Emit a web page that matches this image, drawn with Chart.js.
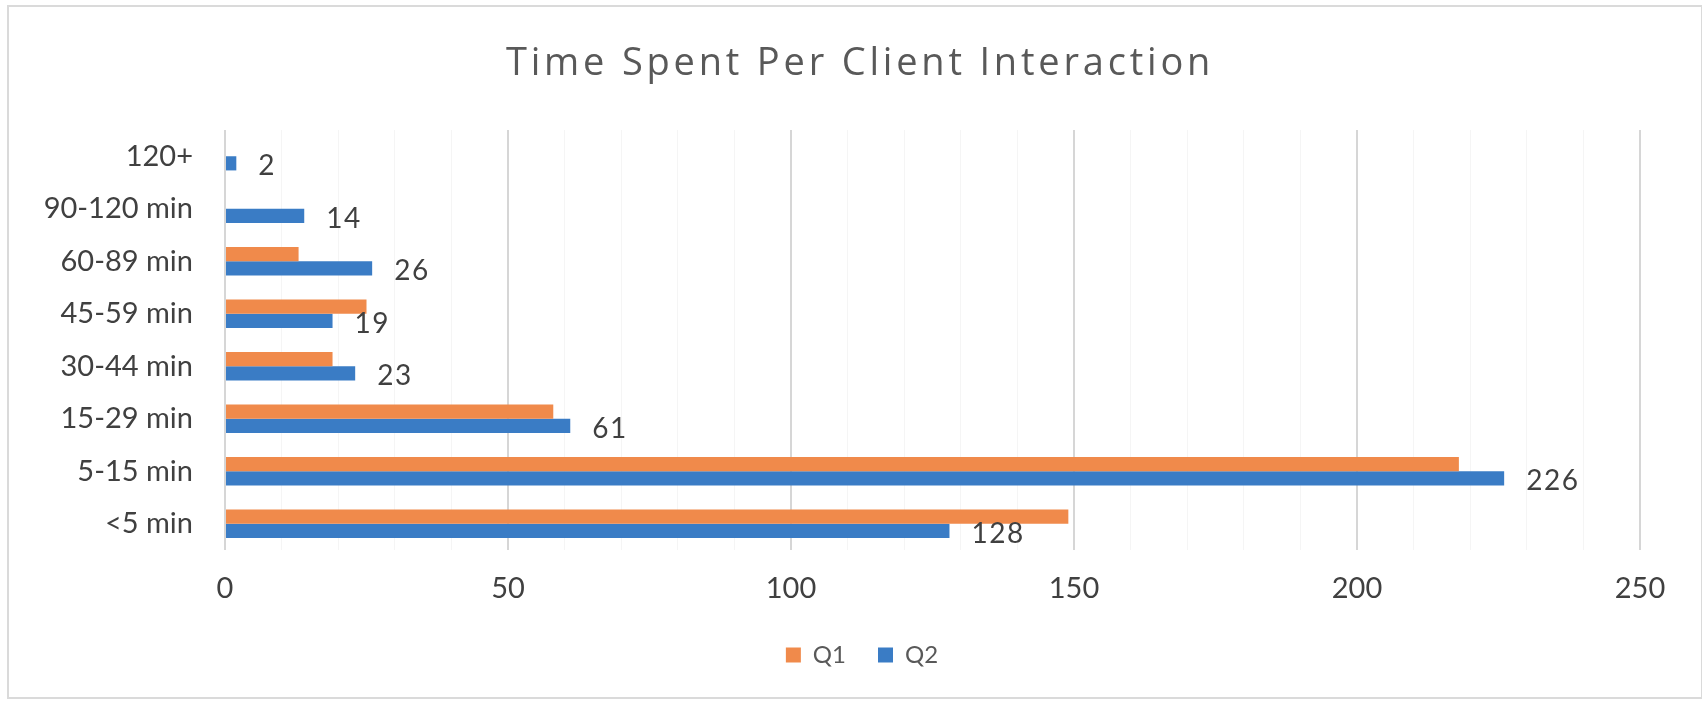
<!DOCTYPE html>
<html>
<head>
<meta charset="utf-8">
<script src="https://cdn.jsdelivr.net/npm/chart.js@4"></script>
<style>
  html, body { margin: 0; padding: 0; background: #fff; }
  #wrap { position: relative; width: 1702px; height: 701px; }
  #frame {
    position: absolute; left: 7px; top: 5px; width: 1692px; height: 690px;
    border: 2px solid #dadada; pointer-events: none;
  }
</style>
</head>
<body>
<div id="wrap">
  <canvas id="chart" width="1702" height="701"></canvas>
  <div id="frame"></div>
</div>
<script>
// ── Data ───────────────────────────────────────────────────────────

const CATEGORIES = ['120+', '90-120 min', '60-89 min', '45-59 min', '30-44 min', '15-29 min', '5-15 min', '<5 min'];
const Q1_VALUES = [0, 0, 13, 25, 19, 58, 218, 149];
const Q2_VALUES = [2, 14, 26, 19, 23, 61, 226, 128];
const X_TICKS = [0, 50, 100, 150, 200, 250];
const TITLE = 'Time Spent Per Client Interaction';

const ORANGE = '#f08a4b';
const BLUE = '#3a7cc5';
const TEXT = '#404040';
const FONT = 'Lato, "Liberation Sans", sans-serif';

// ── Title (letter-spaced, drawn by hand) ───────────────────────────

const spacedTitle = {
  id: 'spacedTitle',
  afterDraw(chart) {
    const { ctx } = chart;
    ctx.save();
    ctx.font = '38px "Open Sans", sans-serif';
    ctx.letterSpacing = '3.8px';
    ctx.fillStyle = '#595959';
    ctx.textAlign = 'left';
    ctx.textBaseline = 'alphabetic';
    ctx.fillText(TITLE, 506, 75);
    ctx.restore();
  },
};

// ── Value labels on the Q2 series (outside end) ────────────────────

const q2Labels = {
  id: 'q2Labels',
  afterDatasetsDraw(chart) {
    const { ctx } = chart;
    const meta = chart.getDatasetMeta(1);
    ctx.save();
    ctx.font = `28px ${FONT}`;
    ctx.letterSpacing = '1.5px';
    ctx.fillStyle = TEXT;
    ctx.textAlign = 'left';
    ctx.textBaseline = 'middle';
    meta.data.forEach((bar, i) => {
      ctx.fillText(String(Q2_VALUES[i]), bar.x + 22, bar.y + 3);
    });
    ctx.restore();
  },
};

new Chart(document.getElementById('chart'), {
  type: 'bar',
  data: {
    labels: CATEGORIES,
    datasets: [
      { label: 'Q1', data: Q1_VALUES, backgroundColor: ORANGE },
      { label: 'Q2', data: Q2_VALUES, backgroundColor: BLUE },
    ],
  },
  options: {
    indexAxis: 'y',
    responsive: false,
    animation: false,
    categoryPercentage: 0.54,
    barPercentage: 1,
    layout: { padding: { left: 22, right: 0, top: 130, bottom: 24 } },
    plugins: {
      title: { display: false },
      legend: {
        position: 'bottom',
        labels: {
          color: '#595959',
          font: { family: FONT, size: 24 },
          boxWidth: 15,
          boxHeight: 15,
          padding: 32,
        },
      },
      tooltip: { enabled: false },
    },
    scales: {
      x: {
        min: 0,
        max: 250,
        border: { display: false },
        grid: {
          color: c => (X_TICKS.includes(c.tick.value) ? '#d6d6d6' : '#f5f5f5'),
          lineWidth: c => (X_TICKS.includes(c.tick.value) ? 2 : 1),
          drawTicks: false,
        },
        ticks: {
          stepSize: 10,
          autoSkip: false,
          maxRotation: 0,
          padding: 21,
          color: TEXT,
          font: { family: FONT, size: 29 },
          callback: v => (X_TICKS.includes(v) ? v : ''),
        },
        afterFit: s => { s.height = 61; s.paddingRight = 62; },
      },
      y: {
        border: { display: false },
        grid: { display: false, drawTicks: false },
        ticks: {
          padding: 32,
          color: TEXT,
          font: { family: FONT, size: 29 },
        },
        afterFit: s => { s.width = 203; },
      },
    },
  },
  plugins: [q2Labels, spacedTitle],
});
</script>
</body>
</html>
